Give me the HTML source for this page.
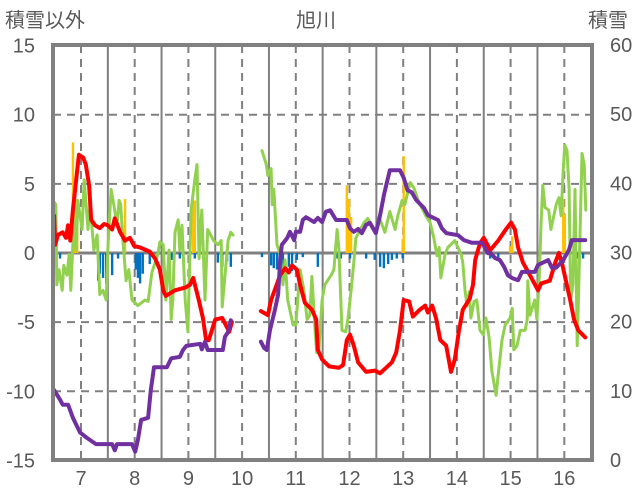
<!DOCTYPE html>
<html><head><meta charset="utf-8">
<style>
html,body{margin:0;padding:0;background:#fff;}
svg{display:block;font-family:"Liberation Sans","Noto Sans CJK JP",sans-serif;}
</style></head>
<body>
<svg id="chart" width="636" height="501" viewBox="0 0 636 501">
  <text x="5" y="27" font-size="20" fill="#595959">積雪以外</text>
  <text x="316" y="27" font-size="20" fill="#595959" text-anchor="middle">旭川</text>
  <text x="588" y="27" font-size="20" fill="#595959">積雪</text>
  <g id="grid"></g>
  <g id="bars"></g>
  <g id="lines"></g>
  <g id="axes"></g>
</svg>
<script>
const monthTicks=[7,8,9,10,11,12,13,14,15,16];
const leftTicks=[15,10,5,0,-5,-10,-15];
const rightTicks=[60,50,40,30,20,10,0];
const halfMonths=[7.5,8.5,9.5,10.5,11.5,12.5,13.5,14.5,15.5];

const redT1=[6.50,6.52,6.57,6.66,6.72,6.76,6.80,6.85,6.91,6.96,7.04,7.09,7.15,7.19,7.26,7.35,7.43,7.50,7.58,7.63,7.73,7.82,7.91,7.99,8.10,8.28,8.38,8.47,8.53,8.58,8.75,8.94,9.03,9.09,9.20,9.27,9.33,9.38,9.50,9.63,9.76,9.81];
const redV1=[2.7,0.6,1.3,1.5,1.1,2.0,0.9,3.1,5.3,7.1,6.9,6.4,4.9,2.4,2.0,1.8,2.1,2.0,1.7,2.5,1.5,0.9,1.1,0.5,0.4,0.1,-0.4,-1.2,-2.7,-3.1,-2.7,-2.5,-2.3,-1.8,-3.5,-4.7,-6.3,-6.3,-4.8,-4.7,-5.7,-5.0];
const redT2=[10.35,10.48,10.54,10.71,10.80,10.87,10.93,11.02,11.08,11.17,11.30,11.38,11.41,11.49,11.62,11.80,11.88,11.95,12.01,12.08,12.16,12.31,12.47,12.57,12.79,12.87,12.94,13.01,13.11,13.18,13.31,13.41,13.46,13.54,13.61,13.69,13.80,13.89,13.96,14.04,14.11,14.24,14.30,14.34,14.43,14.50,14.62,14.77,14.91,15.01,15.08,15.14,15.23,15.36,15.51,15.57,15.73,15.83,15.90,15.96,16.03,16.11,16.18,16.26,16.39];
const redV2=[-4.2,-4.5,-3.4,-1.6,-1.1,-1.4,-0.9,-1.2,-2.3,-3.6,-4.1,-4.8,-7.0,-7.7,-8.2,-8.3,-8.1,-6.3,-5.9,-6.7,-7.9,-8.6,-8.5,-8.7,-7.9,-7.2,-5.6,-3.4,-3.5,-4.6,-4.1,-3.8,-4.3,-3.8,-4.7,-6.3,-6.7,-8.6,-7.7,-5.6,-4.1,-3.3,-2.3,-0.5,0.7,1.1,0.2,0.9,1.7,2.2,1.7,0.4,-0.7,-1.6,-2.7,-2.2,-2.0,-0.7,0.0,-0.8,-2.0,-3.4,-4.8,-5.6,-6.1];

const greenT1=[6.48,6.53,6.55,6.59,6.65,6.68,6.74,6.78,6.81,6.87,6.91,6.94,7.02,7.06,7.13,7.17,7.24,7.30,7.35,7.41,7.47,7.50,7.56,7.61,7.67,7.71,7.74,7.78,7.84,7.89,7.95,8.06,8.19,8.25,8.32,8.43,8.47,8.53,8.58,8.64,8.68,8.71,8.75,8.81,8.84,8.88,8.94,8.99,9.05,9.12,9.16,9.20,9.25,9.31,9.36,9.47,9.55,9.61,9.63,9.74,9.79,9.83];
const greenV1=[3.8,3.5,-2.3,-1.2,-2.7,-0.9,-1.6,-0.1,-2.7,2.4,0.2,3.8,1.7,5.3,1.7,3.5,0.2,1.3,-3.0,-2.7,-3.4,0.2,4.6,3.5,2.0,3.8,3.5,0.9,-2.0,-1.2,-3.4,-3.8,-3.4,-3.5,-1.4,-0.1,0.8,0.6,-3.4,0.2,-4.8,-3.4,1.5,2.4,0.2,2.0,-3.4,-5.7,3.1,5.3,6.4,-0.4,3.1,-3.4,1.7,0.9,0.6,0.9,-3.9,0.9,1.5,1.3];
const greenT2=[10.37,10.45,10.48,10.54,10.56,10.59,10.65,10.71,10.76,10.80,10.85,10.95,11.00,11.08,11.15,11.21,11.26,11.30,11.36,11.39,11.43,11.49,11.54,11.66,11.71,11.77,11.80,11.86,11.93,11.97,12.03,12.08,12.12,12.27,12.34,12.42,12.49,12.57,12.66,12.75,12.85,12.90,12.98,13.03,13.13,13.20,13.28,13.42,13.50,13.57,13.63,13.67,13.70,13.78,13.83,13.96,14.08,14.11,14.15,14.19,14.23,14.26,14.32,14.37,14.43,14.49,14.54,14.60,14.65,14.73,14.77,14.84,14.90,14.99,15.03,15.06,15.12,15.18,15.27,15.31,15.32,15.36,15.45,15.49,15.53,15.57,15.60,15.64,15.71,15.75,15.85,15.90,15.94,15.98,16.01,16.05,16.09,16.12,16.16,16.20,16.24,16.27,16.33,16.37,16.40];
const greenV2=[7.4,6.4,5.6,6.1,3.5,4.6,0.6,-0.1,-2.3,-0.5,-3.4,-5.2,-5.2,-1.2,-2.7,-4.8,-4.5,-1.7,-5.6,-7.2,-7.0,-3.4,-2.3,-1.6,-1.2,1.7,0.4,-5.6,-5.7,-4.8,-2.7,-0.7,1.1,2.2,2.5,1.8,1.7,2.4,1.5,3.0,1.7,2.7,3.8,3.5,5.1,4.7,3.8,2.7,2.2,1.1,-0.2,0.4,-1.8,-0.1,0.4,0.9,-0.1,-0.7,-2.7,-3.8,-2.8,-4.7,-3.5,-3.4,-5.6,-5.9,-4.7,-6.1,-8.5,-10.3,-8.8,-6.3,-5.2,-4.7,-4.0,-7.0,-6.7,-5.6,-5.6,-4.8,-2.0,-4.5,-3.4,-4.8,-2.0,2.4,4.9,3.3,3.1,1.7,3.5,4.0,2.7,6.0,7.8,7.4,4.6,-3.4,-2.3,4.6,-6.7,-2.3,7.2,6.4,3.1];

const snowT1=[6.50,6.61,6.66,6.76,6.85,6.98,7.11,7.28,7.58,7.63,7.67,7.95,8.01,8.06,8.12,8.25,8.30,8.36,8.60,8.68,8.84,8.90,8.96,9.22,9.25,9.31,9.36,9.64,9.68,9.74,9.79];
const snowV1=[10.1,8.7,8.0,8.0,6.1,4.0,3.2,2.3,2.3,1.4,2.3,2.3,1.2,2.9,5.8,6.1,10.1,13.4,13.4,14.7,14.9,15.9,16.5,16.8,16.0,17.1,15.9,15.9,17.8,18.5,20.2];
const snowT2=[10.35,10.41,10.46,10.52,10.61,10.67,10.71,10.74,10.84,10.89,10.97,11.00,11.08,11.13,11.19,11.34,11.41,11.49,11.56,11.64,11.75,11.95,12.01,12.08,12.16,12.23,12.31,12.38,12.49,12.57,12.64,12.75,12.94,13.01,13.08,13.16,13.24,13.39,13.46,13.65,13.72,13.80,14.02,14.13,14.28,14.47,14.58,14.63,14.71,14.80,14.88,14.95,15.03,15.14,15.21,15.45,15.51,15.70,15.77,15.85,15.98,16.09,16.14,16.39];
const snowV2=[17.1,16.2,15.9,18.8,21.7,23.9,28.9,31.1,32.1,33.0,31.8,33.0,33.0,34.7,35.1,34.4,35.0,34.4,35.9,36.1,34.7,34.7,33.5,33.0,33.4,32.8,34.0,34.3,32.8,35.4,38.3,41.9,41.9,40.8,39.0,38.7,37.6,36.4,35.4,34.7,33.5,32.8,32.5,31.8,31.4,31.4,29.9,29.9,29.2,28.9,27.9,26.7,26.3,26.0,27.2,27.2,28.2,28.9,27.8,27.8,28.9,30.4,31.8,31.8];

const posBarT=[6.85,6.89,6.93,7.82,9.09,9.12,11.95,11.99,12.03,12.99,13.01,14.99,15.03,15.98,16.01];
const posBarV=[8.0,3.9,3.9,3.9,3.8,3.8,4.9,3.9,2.6,1.0,7.0,0.5,1.2,3.9,2.8];
const negBarT=[6.61,7.32,7.35,7.41,7.47,7.58,7.69,8.02,8.06,8.10,8.15,8.28,8.69,8.84,9.12,9.55,9.63,9.72,9.79,10.37,10.54,10.59,10.65,10.71,10.76,10.87,10.93,11.02,11.13,11.41,11.78,11.84,12.01,12.31,12.47,12.57,12.64,12.72,12.79,12.88,12.99,14.62,14.77,15.92,16.26,16.35];
const negBarV=[-0.4,-2.0,-1.5,-1.8,-2.2,-1.6,-0.4,-1.2,-1.8,-2.2,-1.5,-0.8,-0.5,-0.4,-0.4,-0.7,-1.0,-0.6,-1.0,-0.3,-0.9,-1.1,-1.2,-1.5,-1.2,-1.0,-1.3,-0.5,-0.3,-1.0,-0.4,-0.4,-0.4,-0.4,-0.5,-1.0,-1.1,-0.8,-0.5,-0.4,-0.4,-0.4,-0.4,-0.4,-0.4,-0.4];

const L=53,R=592,T=45,B=460;
function X(t){return 81+(t-7)*53.7;}
function YL(v){return 253-v*13.83;}
function YR(r){return B-r*(B-T)/60;}
const NS='http://www.w3.org/2000/svg';
function mk(tag,attrs,parent){const e=document.createElementNS(NS,tag);for(const k in attrs)e.setAttribute(k,attrs[k]);parent.appendChild(e);return e;}
const grid=document.getElementById('grid'),bars=document.getElementById('bars'),lines=document.getElementById('lines'),axes=document.getElementById('axes');

leftTicks.forEach(v=>{
  if(v===15||v===-15||v===0)return;
  const y=YL(v);
  const l=mk('line',{x1:L,x2:R,y1:y,y2:y,stroke:'#808080','stroke-width':2,'stroke-dasharray':'8,6'},grid);
  
  
});
halfMonths.forEach(m=>{
  const x=X(m);
  const l=mk('line',{x1:x,x2:x,y1:T,y2:B,stroke:'#808080','stroke-width':2},grid);
  
  
});
monthTicks.forEach(m=>{
  const x=X(m);
  const l=mk('line',{x1:x,x2:x,y1:T,y2:B,stroke:'#808080','stroke-width':2,'stroke-dasharray':'8,6'},grid);
  
  
  const t=mk('text',{x:x,y:485,'font-size':20,fill:'#595959','text-anchor':'middle'},axes);
  t.textContent=m;
  
  
});
const z=mk('line',{x1:L,x2:R,y1:YL(0),y2:YL(0),stroke:'#808080','stroke-width':3},grid);



function drawBars(ts,vs,color,name){
  ts.forEach((t,i)=>{
    const v=vs[i],y0=YL(0),y1=YL(v);
    const r=mk('rect',{x:X(t)-1.2,y:Math.min(y0,y1),width:2.4,height:Math.abs(y1-y0),fill:color},bars);
    
    
  });
}
drawBars(posBarT,posBarV,'#FFC000','positive-bar');
drawBars(negBarT,negBarV,'#0070C0','negative-bar');

function drawLine(ts,vs,yf,color,w,name){
  const d=ts.map((t,i)=>(i?'L':'M')+X(t).toFixed(1)+','+yf(vs[i]).toFixed(1)).join('');
  const p=mk('path',{d:d,fill:'none',stroke:color,'stroke-width':w,'stroke-linejoin':'round','stroke-linecap':'round'},lines);
  
  
}
drawLine(greenT1,greenV1,YL,'#92D050',3,'green-series-line');
drawLine(greenT2,greenV2,YL,'#92D050',3,'green-series-line');
drawLine(redT1,redV1,YL,'#FF0000',4,'red-series-line');
drawLine(redT2,redV2,YL,'#FF0000',4,'red-series-line');
drawLine(snowT1,snowV1,YR,'#7030A0',4,'snow-depth-line');
drawLine(snowT2,snowV2,YR,'#7030A0',4,'snow-depth-line');

const f=mk('rect',{x:L,y:T,width:R-L,height:B-T,fill:'none',stroke:'#808080','stroke-width':4},axes);


leftTicks.forEach(v=>{
  const t=mk('text',{x:35,y:YL(v)+7,'font-size':20,fill:'#595959','text-anchor':'end'},axes);
  t.textContent=v;
  
  
});
rightTicks.forEach(r=>{
  const t=mk('text',{x:610,y:YR(r)+7,'font-size':20,fill:'#595959','text-anchor':'start'},axes);
  t.textContent=r;
  
  
});
</script>
</body></html>
